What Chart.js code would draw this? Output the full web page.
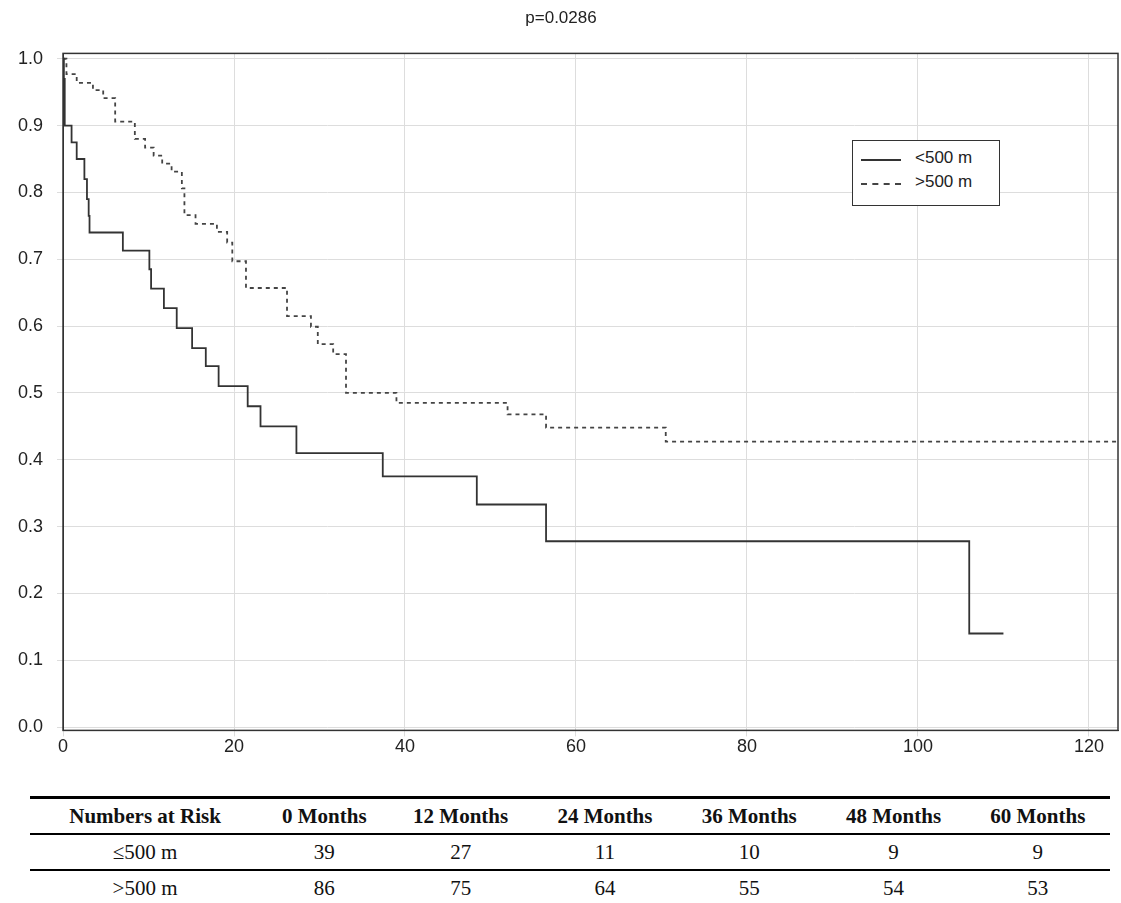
<!DOCTYPE html>
<html><head><meta charset="utf-8">
<script src="https://cdn.jsdelivr.net/npm/chart.js@4"></script>
<style>
body{margin:0;background:#fff;width:1121px;height:903px;overflow:hidden}
#wrap{position:absolute;left:0;top:0;width:1121px;height:770px}
table{position:absolute;left:30px;top:796px;width:1080px;border-collapse:collapse;font-family:"Liberation Serif","DejaVu Serif",serif;font-size:21px;color:#111}
th,td{text-align:center;padding:0;height:34px}
th{font-weight:bold;border-top:3px solid #000;border-bottom:2px solid #000}
tr.r1 td{border-bottom:2px solid #000}
tr.r2 td{border-bottom:1px solid #ddd}
</style></head><body>
<div id="wrap"><canvas id="c" width="1121" height="770"></canvas></div>
<table>
<tr><th>Numbers at Risk</th><th>0 Months</th><th>12 Months</th><th>24 Months</th><th>36 Months</th><th>48 Months</th><th>60 Months</th></tr>
<tr class="r1"><td>≤500 m</td><td>39</td><td>27</td><td>11</td><td>10</td><td>9</td><td>9</td></tr>
<tr class="r2"><td>&gt;500 m</td><td>86</td><td>75</td><td>64</td><td>55</td><td>54</td><td>53</td></tr>
</table>
<script>
const lowX=[0,0.1,0.2,1.0,1.6,2.5,2.8,3.0,3.1,3.3,7.0,10.1,10.3,11.8,13.3,15.1,16.7,18.2,21.6,23.1,27.3,37.4,48.4,56.5,106,110];
const lowY=[1.0,0.97,0.9,0.875,0.85,0.82,0.79,0.765,0.74,0.74,0.713,0.685,0.656,0.627,0.597,0.567,0.54,0.51,0.48,0.45,0.41,0.375,0.333,0.278,0.14,0.14];
const highX=[0,0.4,1.6,3.5,4.7,6.1,8.4,9.6,10.6,11.6,12.7,13.9,14.2,15.5,18,19.2,19.8,21.4,26.2,29,29.8,31.6,33.1,39,52,56.5,70.5,123.5];
const highY=[1.0,0.977,0.964,0.953,0.941,0.906,0.88,0.867,0.855,0.843,0.831,0.806,0.766,0.753,0.741,0.725,0.697,0.657,0.615,0.599,0.573,0.558,0.5,0.485,0.468,0.448,0.427,0.427];
const xTicks=[0,20,40,60,80,100,120];
const yTicks=[0,0.1,0.2,0.3,0.4,0.5,0.6,0.7,0.8,0.9,1.0];
const pts=(xs,ys)=>xs.map((x,i)=>({x,y:ys[i]}));
const frame={id:'frame',afterDraw(ch){const a=ch.chartArea,g=ch.ctx;g.save();g.strokeStyle='#333';g.lineWidth=1.5;g.strokeRect(a.left,a.top,a.right-a.left,a.bottom-a.top);g.restore();}};
new Chart(document.getElementById('c'),{type:'line',
data:{datasets:[
{label:'<500 m',data:pts(lowX,lowY),stepped:'before',borderColor:'#333',borderWidth:1.8,pointRadius:0,fill:false},
{label:'>500 m',data:pts(highX,highY),stepped:'before',borderColor:'#444',borderWidth:1.8,borderDash:[4,4],pointRadius:0,fill:false}]},
plugins:[frame],
options:{responsive:false,animation:false,devicePixelRatio:1,
layout:{padding:{left:4,right:3,top:0,bottom:12}},
plugins:{title:{display:true,text:'p=0.0286',font:{family:'Liberation Sans',size:17,weight:'normal'},color:'#222',padding:{top:8,bottom:25}},
legend:{display:false},tooltip:{enabled:false}},
scales:{
x:{type:'linear',min:0,max:123.4,afterBuildTicks(s){s.ticks=xTicks.map(v=>({value:v}));},
grid:{color:'#ddd',drawTicks:true,tickLength:6},border:{color:'#333'},
ticks:{font:{family:'Liberation Sans',size:18},color:'#222',padding:0}},
y:{min:-0.005,max:1.008,afterBuildTicks(s){s.ticks=yTicks.map(v=>({value:v}));},
grid:{color:'#ddd',tickLength:6},border:{color:'#333'},
ticks:{font:{family:'Liberation Sans',size:18},color:'#222',padding:14,callback:v=>v.toFixed(1)}}}}});
</script>
<div style="position:absolute;left:852px;top:140px;width:146px;height:64px;border:1.5px solid #333;background:#fff;font-family:'Liberation Sans',sans-serif;font-size:17px;color:#222">
<div style="position:absolute;left:8px;top:18px;width:40px;border-top:2px solid #333"></div><div style="position:absolute;left:62px;top:7px">&lt;500 m</div>
<div style="position:absolute;left:8px;top:42px;width:40px;border-top:2px dashed #444"></div><div style="position:absolute;left:62px;top:31px">&gt;500 m</div>
</div>
</body></html>
